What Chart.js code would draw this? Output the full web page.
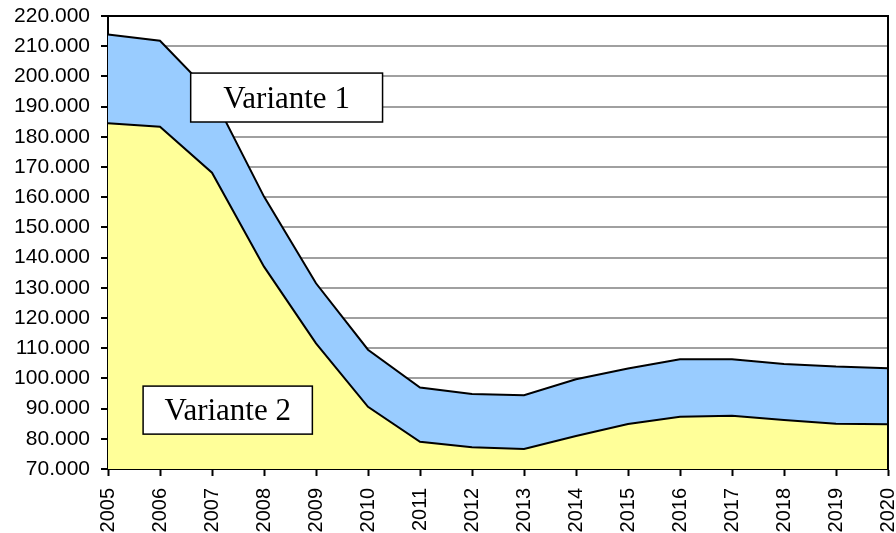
<!DOCTYPE html>
<html>
<head>
    <title>Variante 1 / Variante 2</title>
    <script src="https://cdn.jsdelivr.net/npm/chart.js"></script>
    <style>
        body {
            margin: 0;
            padding: 0;
            background: #fff;
        }
        .wrap {
            width: 896px;
            height: 533px;
        }
    </style>
</head>
<body>
    <div class="wrap">
        <canvas id="areaChart"></canvas>
    </div>

    <script>
const years = ["2005", "2006", "2007", "2008", "2009", "2010", "2011", "2012",
               "2013", "2014", "2015", "2016", "2017", "2018", "2019", "2020"];
const variante1 = [213900, 211800, 194000, 160200, 131500, 109500, 97000, 94800,
                   94400, 99700, 103300, 106300, 106300, 104800, 103900, 103400];
const variante2 = [184500, 183300, 168100, 137000, 111600, 90600, 79000, 77200,
                   76600, 80900, 84900, 87300, 87600, 86200, 85000, 84800];
const yMin = 70000;
const yMax = 220000;
const yStep = 10000;
const boxLabels = ["Variante 1", "Variante 2"];

// plot frame on top and right like the original
const frame = {
    id: 'frame',
    afterDatasetsDraw(chart) {
        const a = chart.chartArea;
        const c = chart.ctx;
        c.save();
        c.strokeStyle = '#000';
        c.lineWidth = 2;
        c.beginPath();
        c.moveTo(a.left, a.top);
        c.lineTo(a.right, a.top);
        c.lineTo(a.right, a.bottom);
        c.stroke();
        c.restore();
    }
};

// the two text boxes, placed as fractions of the plot area
const boxes = {
    id: 'boxes',
    afterDraw(chart) {
        const a = chart.chartArea;
        const w = a.right - a.left, h = a.bottom - a.top;
        const spots = [
            [0.106, 0.126, 0.246, 0.108],
            [0.045, 0.817, 0.217, 0.106]
        ];
        const c = chart.ctx;
        c.save();
        c.font = '31px "Liberation Serif", "Times New Roman", serif';
        c.textAlign = 'center';
        c.textBaseline = 'middle';
        spots.forEach((s, i) => {
            const x = a.left + s[0] * w, y = a.top + s[1] * h;
            const bw = s[2] * w, bh = s[3] * h;
            c.fillStyle = '#fff';
            c.fillRect(x, y, bw, bh);
            c.strokeStyle = '#000';
            c.lineWidth = 1.5;
            c.strokeRect(x, y, bw, bh);
            c.fillStyle = '#000';
            c.fillText(boxLabels[i], x + bw / 2, y + bh / 2 + 2);
        });
        c.restore();
    }
};

const ctx = document.getElementById('areaChart').getContext('2d');
new Chart(ctx, {
    type: 'line',
    data: {
        labels: years,
        datasets: [{
            label: 'Variante 1',
            data: variante1,
            backgroundColor: '#99CCFF',
            borderColor: '#000',
            borderWidth: 2,
            fill: '+1',
            pointRadius: 0,
            tension: 0
        }, {
            label: 'Variante 2',
            data: variante2,
            backgroundColor: '#FFFF99',
            borderColor: '#000',
            borderWidth: 2,
            fill: 'start',
            pointRadius: 0,
            tension: 0
        }]
    },
    options: {
        responsive: true,
        maintainAspectRatio: false,
        animation: false,
        layout: { padding: { top: 16, right: 8, left: 0, bottom: 0 } },
        plugins: {
            legend: { display: false },
            tooltip: { enabled: false },
            filler: { drawTime: 'beforeDatasetsDraw' }
        },
        scales: {
            x: {
                offset: false,
                grid: {
                    drawOnChartArea: false,
                    tickColor: '#000',
                    tickLength: 7,
                    tickWidth: 2
                },
                border: { color: '#000', width: 2 },
                ticks: {
                    color: '#000',
                    minRotation: 90,
                    maxRotation: 90,
                    autoSkip: false,
                    padding: 12,
                    font: { family: 'Arial, "Liberation Sans", sans-serif', size: 20 }
                },
                afterFit(scale) {
                    scale.height = 64;
                    scale.paddingLeft = 0;
                    scale.paddingRight = 0;
                }
            },
            y: {
                min: yMin,
                max: yMax,
                grid: {
                    color: '#a0a0a0',
                    lineWidth: 2,
                    tickColor: '#000',
                    tickLength: 7,
                    tickWidth: 2
                },
                border: { color: '#000', width: 2 },
                ticks: {
                    stepSize: yStep,
                    color: '#000',
                    padding: 11,
                    font: { family: 'Arial, "Liberation Sans", sans-serif', size: 21 },
                    callback: v => v.toLocaleString('de-DE')
                },
                afterFit(scale) {
                    scale.width = 108;
                    scale.paddingTop = 0;
                    scale.paddingBottom = 0;
                }
            }
        }
    },
    plugins: [frame, boxes]
});
    </script>
</body>
</html>
